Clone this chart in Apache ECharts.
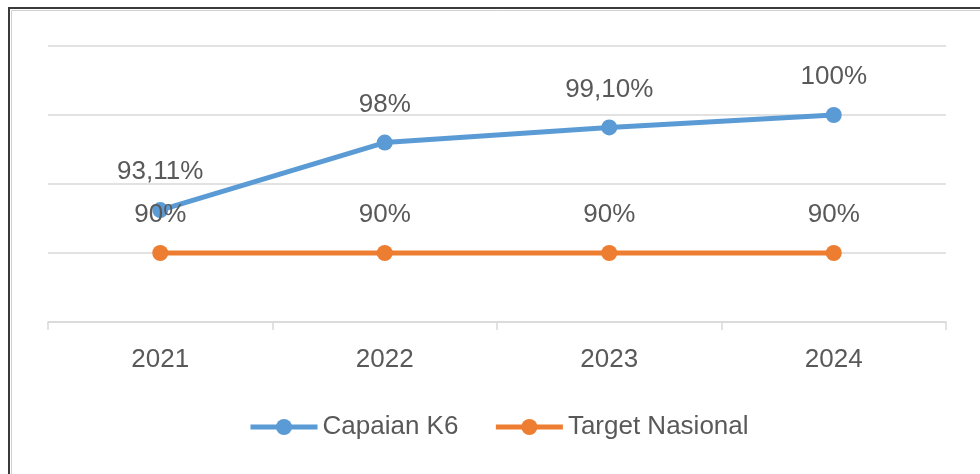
<!DOCTYPE html>
<html>
<head>
<meta charset="utf-8">
<script src="https://cdn.jsdelivr.net/npm/echarts@6/dist/echarts.min.js"></script>
<style>
  html, body { margin: 0; padding: 0; background: #fff; }
  #chart { width: 980px; height: 474px; }
</style>
</head>
<body>
<div id="chart"></div>
<script>
  var years = ['2021', '2022', '2023', '2024'];
  var capaian = [93.11, 98, 99.1, 100];
  var capaianLabels = ['93,11%', '98%', '99,10%', '100%'];
  var target = [90, 90, 90, 90];
  var targetLabels = ['90%', '90%', '90%', '90%'];

  var textColor = '#595959';
  var fontFamily = '"Liberation Sans", Arial, sans-serif';

  var chart = echarts.init(document.getElementById('chart'));
  chart.setOption({
    animation: false,
    textStyle: { fontFamily: fontFamily },
    graphic: [
      {
        type: 'rect',
        shape: { x: 9, y: 8, width: 1100, height: 1000 },
        style: { fill: 'none', stroke: '#3a3a3a', lineWidth: 2 }
      },
      {
        type: 'rect',
        shape: { x: 11.5, y: 10.5, width: 1100, height: 1000 },
        style: { fill: 'none', stroke: '#d0d0d0', lineWidth: 1 }
      }
    ],
    grid: { left: 48, right: 34, top: 46, bottom: 152 },
    legend: {
      top: 409,
      left: 243,
      itemWidth: 67,
      itemHeight: 20,
      itemGap: 35,
      lineStyle: { width: 5 },
      textStyle: { color: textColor, fontSize: 26, fontFamily: fontFamily },
      data: ['Capaian K6', 'Target Nasional']
    },
    xAxis: {
      type: 'category',
      data: years,
      boundaryGap: true,
      axisLine: { lineStyle: { color: '#d9d9d9', width: 1.5 } },
      axisTick: { show: true, length: 8, lineStyle: { color: '#d9d9d9', width: 1.5 } },
      axisLabel: { color: textColor, fontSize: 26, margin: 25 }
    },
    yAxis: {
      type: 'value',
      min: 85,
      max: 105,
      interval: 5,
      axisLabel: { show: false },
      axisLine: { show: false },
      axisTick: { show: false },
      splitLine: { lineStyle: { color: '#d9d9d9', width: 1.5 } }
    },
    series: [
      {
        name: 'Capaian K6',
        type: 'line',
        data: capaian,
        symbol: 'circle',
        symbolSize: 16,
        itemStyle: { color: '#5b9bd5' },
        lineStyle: { color: '#5b9bd5', width: 5 },
        label: {
          show: true,
          position: 'top',
          distance: 17,
          color: textColor,
          fontSize: 26,
          formatter: function (p) { return capaianLabels[p.dataIndex]; }
        }
      },
      {
        name: 'Target Nasional',
        type: 'line',
        data: target,
        symbol: 'circle',
        symbolSize: 16,
        itemStyle: { color: '#ed7d31' },
        lineStyle: { color: '#ed7d31', width: 5 },
        label: {
          show: true,
          position: 'top',
          distance: 17,
          color: textColor,
          fontSize: 26,
          formatter: function (p) { return targetLabels[p.dataIndex]; }
        }
      }
    ]
  });
</script>
</body>
</html>
